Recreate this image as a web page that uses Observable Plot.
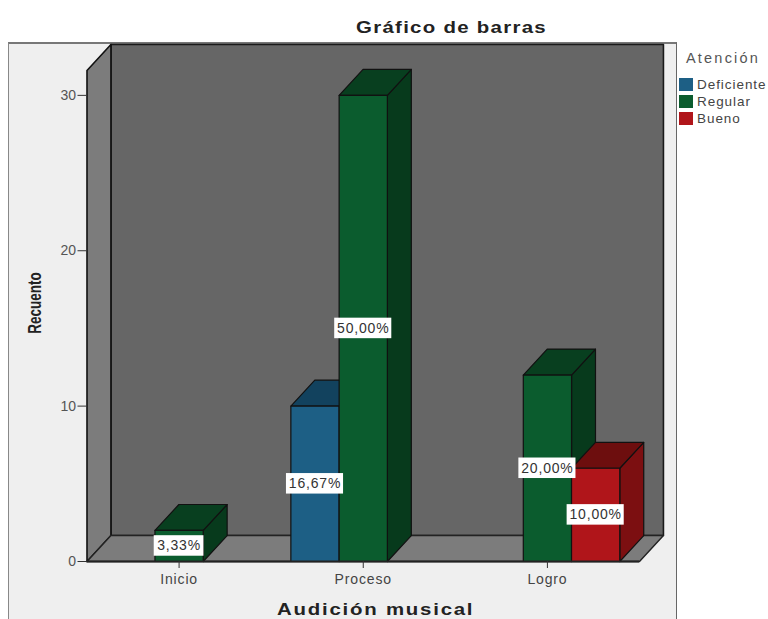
<!DOCTYPE html>
<html><head><meta charset="utf-8">
<script src="https://cdn.jsdelivr.net/npm/d3@7"></script>
<script src="https://cdn.jsdelivr.net/npm/@observablehq/plot@0.6"></script>
<style>
html,body{margin:0;padding:0;background:#fff;overflow:hidden;width:768px;height:619px;font-family:"Liberation Sans",Arial,sans-serif}
#frame{position:absolute;left:8px;top:42px;width:669px;height:577px;background:#efefef;border-left:1px solid #888;border-right:1px solid #666;border-top:2px solid #777;box-sizing:border-box}
#chart{position:absolute;left:0;top:0}
.wide{position:absolute;font-weight:bold;font-size:17px;color:#222;white-space:nowrap;transform:scaleX(1.2);transform-origin:left center}
#title{left:356px;top:18px;letter-spacing:1.08px}
#xlabel{left:277px;top:600px;letter-spacing:1.48px}
#ylabel{position:absolute;left:35px;top:303px;font-weight:bold;font-size:13.5px;color:#222;white-space:nowrap;transform:translate(-50%,-50%) rotate(-90deg) scaleY(1.35)}
#legend{position:absolute;left:679px;top:50px;color:#444;font-size:13.5px;letter-spacing:.95px}
#legend .t{position:absolute;left:7px;top:0;font-size:14.5px;letter-spacing:2.2px;color:#555;white-space:nowrap}
#legend .r{position:absolute;left:0;display:flex;align-items:center;white-space:nowrap}
#legend .s{width:14px;height:13px;margin-right:4px;display:block}
.barlabel text{letter-spacing:.8px}
.xticks text{letter-spacing:.85px}
</style></head><body>
<div id="frame"></div>
<div id="chart"></div>
<div id="title" class="wide">Gráfico de barras</div>
<div id="xlabel" class="wide">Audición musical</div>
<div id="ylabel">Recuento</div>
<div id="legend"></div>
<script>
const categories = ["Inicio", "Proceso", "Logro"];
const seriesNames = ["Deficiente", "Regular", "Bueno"];
const barCategory = ["Inicio", "Proceso", "Proceso", "Logro", "Logro"];
const barSeries = ["Regular", "Deficiente", "Regular", "Regular", "Bueno"];
const barCounts = [2, 10, 30, 12, 6];
const barLabels = ["3,33%", "16,67%", "50,00%", "20,00%", "10,00%"];
const yTicks = [0, 10, 20, 30];
const frontColors = ["#1d5f85", "#0b5c2e", "#b0151a"];
const topColors = ["#12425e", "#083f1f", "#6d0e0e"];
const sideColors = ["#0f3a52", "#073a1c", "#7c0f11"];
const wallBack = "#666666", wallSide = "#7c7c7c";

const yMax = 31.6, depthX = 0.13, depthY = 1.67, barW = 0.262, xMax = 3;
const catX = c => categories.indexOf(c) + 0.5;
const serOff = s => (seriesNames.indexOf(s) - 1) * barW;

function poly(pts, fill, stroke = "#111", sw = 1.2) {
  const closed = [...pts, pts[0]].map(([x, y]) => ({x, y}));
  return Plot.line(closed, {x: "x", y: "y", fill, stroke, strokeWidth: sw, curve: "linear"});
}
const walls = [
  poly([[depthX, depthY], [xMax + depthX, depthY], [xMax + depthX, yMax + depthY], [depthX, yMax + depthY]], wallBack, "#1a1a1a", 1.6),
  poly([[0, 0], [depthX, depthY], [depthX, yMax + depthY], [0, yMax]], wallSide, "#111", 1.6),
  poly([[0, 0], [xMax, 0], [xMax + depthX, depthY], [depthX, depthY]], wallSide, "#222", 1.4)
];
const bars = [];
const boxes = [];
barCounts.forEach((v, i) => {
  const k = seriesNames.indexOf(barSeries[i]);
  const c = catX(barCategory[i]) + serOff(barSeries[i]);
  const a = c - barW / 2, b = c + barW / 2;
  bars.push(poly([[b, 0], [b + depthX, depthY], [b + depthX, v + depthY], [b, v]], sideColors[k]));
  bars.push(poly([[a, v], [b, v], [b + depthX, v + depthY], [a + depthX, v + depthY]], topColors[k]));
  bars.push(poly([[a, 0], [b, 0], [b, v], [a, v]], frontColors[k]));
  const half = (barLabels[i].length === 5 ? 0.135 : 0.155);
  boxes.push({x1: c - half, x2: c + half, y1: v / 2 - 0.66, y2: v / 2 + 0.66, x: c, y: v / 2, label: barLabels[i]});
});

const plot = Plot.plot({
  width: 768, height: 619,
  marginLeft: 86.5, marginRight: 129, marginTop: 70, marginBottom: 58,
  style: {background: "transparent", fontFamily: "'Liberation Sans',Arial,sans-serif"},
  x: {domain: [0, xMax], axis: null},
  y: {domain: [0, yMax], axis: null},
  marks: [
    ...walls,
    ...bars,
    Plot.rect(boxes, {x1: "x1", x2: "x2", y1: "y1", y2: "y2", fill: "#fff"}),
    Plot.text(boxes, {x: "x", y: "y", text: "label", fill: "#333", fontSize: 14, className: "barlabel"}),
    Plot.ruleY([0], {stroke: "#222", strokeWidth: 2}),
    Plot.axisY({ticks: yTicks, tickFormat: d => String(d), tickSize: 9, tickPadding: 2, fontSize: 14, color: "#555", stroke: "#333",
      label: null}),
    Plot.axisX(categories.map(catX), {tickFormat: d => categories[d - 0.5], tickSize: 7, tickPadding: 6, fontSize: 14, color: "#444", stroke: "#333",
      className: "xticks", label: null})
  ]
});
document.getElementById("chart").appendChild(plot);

const legend = document.getElementById("legend");
legend.innerHTML = '<div class="t">Atención</div>';
const rowTops = [27, 44, 61];
seriesNames.forEach((n, i) => {
  const r = document.createElement("div");
  r.className = "r"; r.style.top = rowTops[i] + "px";
  r.innerHTML = `<span class="s" style="background:${frontColors[i]}"></span>${n}`;
  legend.appendChild(r);
});
</script></body></html>
